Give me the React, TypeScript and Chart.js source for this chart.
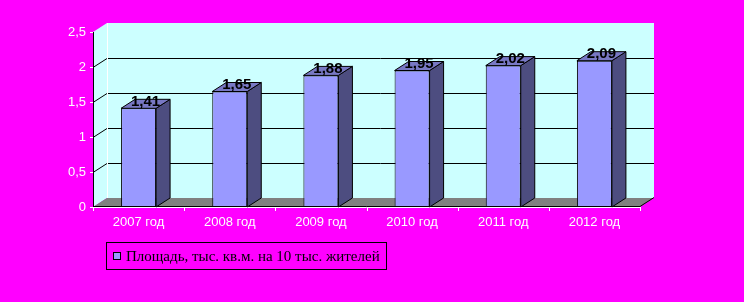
import React, { useEffect, useRef } from "react";
import { Chart, registerables } from "chart.js";

Chart.register(...registerables);

const categories = ["2007 год", "2008 год", "2009 год", "2010 год", "2011 год", "2012 год"];
const values = [1.41, 1.65, 1.88, 1.95, 2.02, 2.09];
const valueLabels = ["1,41", "1,65", "1,88", "1,95", "2,02", "2,09"];
const yTicks = [0, 0.5, 1, 1.5, 2, 2.5];
const yTickLabels = ["0", "0,5", "1", "1,5", "2", "2,5"];
const seriesName = "Площадь, тыс. кв.м. на 10 тыс. жителей";

const DX = 14;
const DY = 9;
const FRONT = "#9999FF";
const SIDE = "#4D4D80";
const TOP = "#7878C4";
const WALL = "#CCFFFF";
const FLOOR = "#808080";

function poly(ctx: CanvasRenderingContext2D, pts: number[][]) {
  ctx.beginPath();
  ctx.moveTo(pts[0][0], pts[0][1]);
  for (let i = 1; i < pts.length; i++) ctx.lineTo(pts[i][0], pts[i][1]);
  ctx.closePath();
}

const threeD = {
  id: "threeD",
  beforeDatasetsDraw(chart: any) {
    const { ctx, chartArea: a, scales } = chart;
    const y = scales.y;
    const L = a.left, R = a.right, T = a.top, B = a.bottom;
    ctx.save();
    ctx.fillStyle = WALL;
    poly(ctx, [[L, B], [L, T], [L + DX, T - DY], [L + DX, B - DY]]);
    ctx.fill();
    ctx.fillRect(L + DX, T - DY, R - L, B - T);
    ctx.fillStyle = FLOOR;
    poly(ctx, [[L, B], [R, B], [R + DX, B - DY], [L + DX, B - DY]]);
    ctx.fill();
    ctx.strokeStyle = "#000";
    ctx.lineWidth = 1;
    for (const v of yTicks) {
      if (v <= 0 || v >= 2.5) continue;
      const yy = Math.round(y.getPixelForValue(v)) + 0.5;
      ctx.beginPath();
      ctx.moveTo(L, yy);
      ctx.lineTo(L + DX, yy - DY);
      ctx.lineTo(R + DX, yy - DY);
      ctx.stroke();
    }
    ctx.strokeStyle = "#FFFFFF";
    ctx.beginPath();
    ctx.moveTo(L + DX + 0.5, T - DY);
    ctx.lineTo(L + DX + 0.5, B - DY);
    ctx.stroke();
    ctx.strokeStyle = "#000";
    ctx.beginPath();
    ctx.moveTo(R, B - 0.5);
    ctx.lineTo(R + DX, B - DY - 0.5);
    ctx.stroke();
    ctx.beginPath();
    ctx.moveTo(L, B - 0.5);
    ctx.lineTo(R, B - 0.5);
    ctx.stroke();
    ctx.beginPath();
    ctx.moveTo(L + 0.5, T);
    ctx.lineTo(L + 0.5, B);
    ctx.stroke();
    ctx.strokeStyle = "#FFFFFF";
    ctx.beginPath();
    ctx.moveTo(L, B + 0.5);
    ctx.lineTo(R, B + 0.5);
    ctx.stroke();
    for (const v of yTicks) {
      const yy = Math.round(y.getPixelForValue(v)) + 0.5;
      ctx.beginPath();
      ctx.moveTo(L - 3, yy);
      ctx.lineTo(L, yy);
      ctx.stroke();
    }
    const n = categories.length;
    for (let i = 0; i <= n; i++) {
      const xx = Math.round(L + ((R - L) * i) / n) + 0.5;
      ctx.beginPath();
      ctx.moveTo(xx, B);
      ctx.lineTo(xx, B + 4);
      ctx.stroke();
    }
    ctx.restore();
  },
  afterDatasetsDraw(chart: any) {
    const { ctx } = chart;
    const meta = chart.getDatasetMeta(0);
    ctx.save();
    ctx.strokeStyle = "#000";
    ctx.lineWidth = 1;
    meta.data.forEach((el: any, i: number) => {
      const p = el.getProps(["x", "y", "base", "width"], true);
      const left = p.x - p.width / 2;
      const right = p.x + p.width / 2;
      const top = p.y;
      const base = p.base;
      ctx.fillStyle = SIDE;
      poly(ctx, [[right, top], [right + DX, top - DY], [right + DX, base - DY], [right, base]]);
      ctx.fill();
      ctx.stroke();
      ctx.fillStyle = TOP;
      poly(ctx, [[left, top], [left + DX, top - DY], [right + DX, top - DY], [right, top]]);
      ctx.fill();
      ctx.stroke();
      ctx.fillStyle = "#000";
      ctx.font = "bold 15px Arial, 'Liberation Sans', sans-serif";
      ctx.textAlign = "center";
      ctx.textBaseline = "middle";
      ctx.fillText(valueLabels[i], p.x + DX / 2, top - DY / 2 - 2);
    });
    ctx.strokeStyle = "#000";
    ctx.strokeRect(106.5, 242.5, 280, 27);
    ctx.fillStyle = FRONT;
    ctx.fillRect(113, 252, 8, 8);
    ctx.strokeRect(113.5, 252.5, 7, 7);
    ctx.fillStyle = "#000";
    ctx.font = "15px 'Times New Roman', 'Liberation Serif', serif";
    ctx.textAlign = "left";
    ctx.textBaseline = "alphabetic";
    ctx.fillText(seriesName, 126, 261);
    ctx.restore();
  },
};

export default function App() {
  const ref = useRef<HTMLCanvasElement | null>(null);
  useEffect(() => {
    if (!ref.current) return;
    const chart = new Chart(ref.current, {
      type: "bar",
      data: {
        labels: categories,
        datasets: [
          {
            label: seriesName,
            data: values,
            backgroundColor: FRONT,
            borderColor: "#000",
            borderWidth: 1,
            borderSkipped: false,
            barPercentage: 0.384,
            categoryPercentage: 1,
          },
        ],
      },
      options: {
        responsive: false,
        animation: false,
        devicePixelRatio: 1,
        layout: { padding: { top: 32, right: 104, left: 0, bottom: 0 } },
        plugins: { legend: { display: false }, tooltip: { enabled: false } },
        scales: {
          x: {
            grid: { display: false, drawTicks: false },
            border: { display: false },
            ticks: {
              color: "#FFFFFF",
              font: { family: "Arial, 'Liberation Sans', sans-serif", size: 13 },
              padding: 8,
              maxRotation: 0,
            },
            afterFit: (s: any) => {
              s.height = 95;
            },
          },
          y: {
            min: 0,
            max: 2.5,
            grid: { display: false, drawTicks: false },
            border: { display: false },
            ticks: {
              stepSize: 0.5,
              color: "#FFFFFF",
              font: { family: "Arial, 'Liberation Sans', sans-serif", size: 13 },
              padding: 7,
              callback: (v: any) => {
                const idx = yTicks.indexOf(Number(v));
                return idx >= 0 ? yTickLabels[idx] : "";
              },
            },
            afterFit: (s: any) => {
              s.width = 93;
            },
          },
        },
      },
      plugins: [threeD],
    });
    return () => chart.destroy();
  }, []);
  return (
    <div
      style={{
        position: "fixed",
        left: 0,
        top: 0,
        width: 744,
        height: 302,
        background: "#FF00FF",
      }}
    >
      <canvas ref={ref} width={744} height={302} style={{ display: "block" }} />
    </div>
  );
}
